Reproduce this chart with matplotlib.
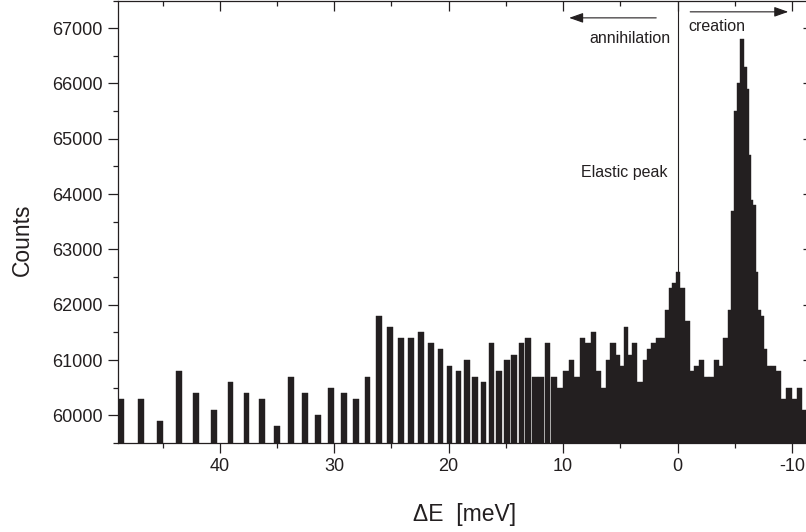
import numpy as np
import matplotlib
matplotlib.use("Agg")
import matplotlib.pyplot as plt

plt.rcParams['font.family'] = ['Liberation Sans', 'DejaVu Sans']
plt.rcParams['axes.unicode_minus'] = False

ink = '#231f20'

# energy transfer (meV) of each time-of-flight channel and its counts
energy = [48.61, 46.86, 45.19, 43.56, 42.05, 40.52, 39.07, 37.67, 36.33, 35.02,
          33.75, 32.54, 31.39, 30.25, 29.15, 28.10, 27.08, 26.06, 25.11, 24.18,
          23.28, 22.40, 21.52, 20.72, 19.93, 19.14, 18.38, 17.67, 16.96, 16.26,
          15.57, 14.91, 14.27, 13.64, 13.05, 12.47, 11.94, 11.36, 10.80, 10.28,
          9.76, 9.27, 8.77, 8.30, 7.83, 7.37, 6.91, 6.45, 6.06, 5.65,
          5.18, 4.86, 4.48, 4.13, 3.76, 3.26, 2.82, 2.47, 2.12, 1.69,
          1.25, 0.90, 0.61, 0.33, -0.06, -0.45, -0.85, -1.26, -1.62, -2.07,
          -2.51, -2.93, -3.38, -3.79, -4.20, -4.56, -4.85, -5.10, -5.33, -5.66,
          -6.02, -6.21, -6.37, -6.55, -6.72, -6.92, -7.16, -7.38, -7.67, -8.02,
          -8.37, -8.78, -9.24, -9.76, -10.20, -10.64, -11.07]
counts = [60300, 60300, 59900, 60800, 60400, 60100, 60600, 60400, 60300, 59800,
          60700, 60400, 60000, 60500, 60400, 60300, 60700, 61800, 61600, 61400,
          61400, 61500, 61300, 61200, 60900, 60800, 61000, 60700, 60600, 61300,
          60800, 61000, 61100, 61300, 61400, 60700, 60700, 61300, 60700, 60500,
          60800, 61000, 60700, 61400, 61300, 61500, 60800, 60500, 61000, 61300,
          61100, 60900, 61600, 61100, 61300, 60600, 61000, 61200, 61300, 61400,
          61400, 61900, 62300, 62400, 62600, 62300, 61700, 60800, 60900, 61000,
          60700, 60700, 61000, 60900, 61400, 61900, 63700, 65500, 66000, 66800,
          66300, 65900, 64700, 63900, 63800, 62600, 61900, 61800, 61200, 60900,
          60900, 60800, 60300, 60500, 60300, 60500, 60100]

xticks = [40, 30, 20, 10, 0, -10]
yticks = [60000, 61000, 62000, 63000, 64000, 65000, 66000, 67000]

# bars are 0.5 meV wide, but where channels get denser they just fill the gap
e = np.array(energy)
half = 0.25
mids = (e[:-1] + e[1:]) / 2
hi = np.minimum(np.r_[e[0] + half, mids], e + half)
lo = np.maximum(np.r_[mids, e[-1] - half], e - half)

fig = plt.figure(figsize=(8.06, 5.32), dpi=100)
ax = fig.add_axes([118 / 806, 89 / 532, 695 / 806, 442.5 / 532])

ax.bar(lo, counts, width=hi - lo, align='edge', color=ink, edgecolor=ink,
       linewidth=0.3)
ax.axvline(0, color=ink, lw=0.8, zorder=3)

ax.set_xlim(48.89, -11.84)
ax.set_ylim(59500, 67500)

ax.set_xticks(xticks)
ax.set_xticklabels([str(t) for t in xticks])
ax.set_xticks(np.arange(45, -12, -5), minor=True)
ax.set_yticks(yticks)
ax.set_yticks(np.arange(59500, 67501, 500), minor=True)
ax.tick_params(which='both', direction='out', width=0.9, color=ink,
               labelcolor=ink, labelsize=13)
ax.tick_params(which='major', length=7.2)
ax.tick_params(which='minor', length=3.6)
ax.tick_params(axis='y', pad=4)
ax.tick_params(axis='x', pad=3.5)
for s in ax.spines.values():
    s.set_linewidth(0.9)
    s.set_color(ink)

# mirrored axes with inward ticks on top and right
top = ax.twiny()
top.set_xlim(ax.get_xlim())
top.set_xticks(xticks)
top.set_xticks(np.arange(45, -12, -5), minor=True)
top.tick_params(which='both', direction='in', labeltop=False, width=0.9, color=ink)
top.tick_params(which='major', length=7.2)
top.tick_params(which='minor', length=3.6)
right = ax.twinx()
right.set_ylim(ax.get_ylim())
right.set_yticks(yticks)
right.set_yticks(np.arange(59500, 67501, 500), minor=True)
right.tick_params(which='both', direction='in', labelright=False, width=0.9, color=ink)
right.tick_params(which='major', length=7.2)
right.tick_params(which='minor', length=3.6)
for a in (top, right):
    for s in a.spines.values():
        s.set_visible(False)

# annotations
ax.annotate('', xy=(9.47, 67186), xytext=(1.86, 67186),
            arrowprops=dict(arrowstyle='-|>,head_length=0.85,head_width=0.3',
                            color=ink, lw=0.8, shrinkA=0, shrinkB=0))
ax.annotate('', xy=(-9.68, 67295), xytext=(-1.11, 67295),
            arrowprops=dict(arrowstyle='-|>,head_length=0.85,head_width=0.3',
                            color=ink, lw=0.8, shrinkA=0, shrinkB=0))
ax.text(0.64, 66806, 'annihilation', ha='right', va='center', fontsize=11.5, color=ink)
ax.text(-0.93, 67024, 'creation', ha='left', va='center', fontsize=11.5, color=ink)
ax.text(0.9, 64399, 'Elastic peak', ha='right', va='center', fontsize=11.5, color=ink)

fig.text(22 / 806, 1 - 240 / 532, 'Counts', rotation=90, ha='center', va='center',
         fontsize=16.5, color=ink)
fig.text(465 / 806, 1 - 515 / 532, '\u0394E  [meV]', ha='center', va='center',
         fontsize=16.5, color=ink)

fig.savefig('out.png', dpi=100)
